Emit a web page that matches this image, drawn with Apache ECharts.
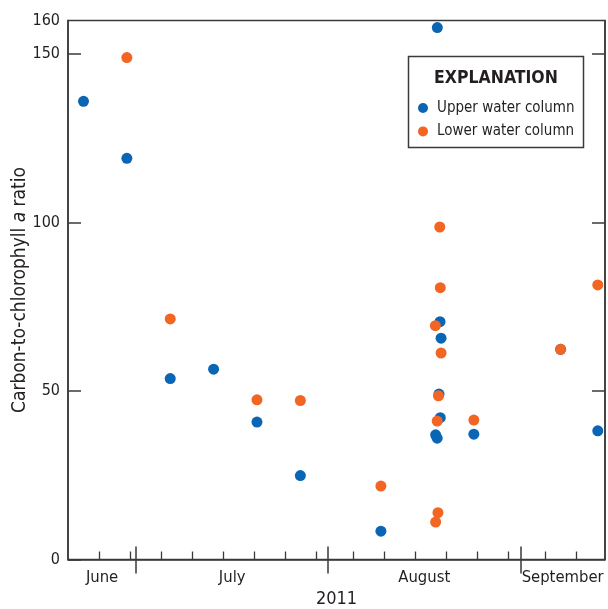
<!DOCTYPE html>
<html>
<head>
<meta charset="utf-8">
<script src="https://cdn.jsdelivr.net/npm/echarts@6/dist/echarts.min.js"></script>
<style>
  html, body { margin: 0; padding: 0; background: #fff; }
  #chart { width: 608px; height: 609px; }
</style>
</head>
<body>
<div id="chart"></div>
<script>
// Sample dates and carbon-to-chlorophyll a ratios, 2011
const upperDates = [
  '2011-06-22 12:00', '2011-06-29 12:00', '2011-07-06 12:00', '2011-07-13 12:00',
  '2011-07-20 12:00', '2011-07-27 12:00', '2011-08-09 12:00', '2011-08-18 14:30',
  '2011-08-19 01:00', '2011-08-19 05:00', '2011-08-18 21:00', '2011-08-19 02:00',
  '2011-08-18 08:00', '2011-08-18 14:00', '2011-08-24 12:00', '2011-09-07 12:00',
  '2011-09-13 12:00'
];
const upperValues = [136.0, 119.1, 53.7, 56.5, 40.8, 24.9, 8.4, 157.9,
  70.6, 65.7, 49.1, 42.1, 37.0, 36.0, 37.2, 62.4, 38.2];

const lowerDates = [
  '2011-06-29 12:00', '2011-07-06 12:00', '2011-07-20 12:00', '2011-07-27 12:00',
  '2011-08-09 12:00', '2011-08-19 00:00', '2011-08-19 02:00', '2011-08-18 07:00',
  '2011-08-19 05:00', '2011-08-18 19:00', '2011-08-18 14:00', '2011-08-24 12:00',
  '2011-08-18 17:00', '2011-08-18 08:00', '2011-09-07 12:00', '2011-09-13 12:00'
];
const lowerValues = [149.0, 71.4, 47.4, 47.2, 21.8, 98.7, 80.7, 69.4,
  61.3, 48.6, 41.1, 41.4, 13.9, 11.1, 62.4, 81.5];

const seriesNames = ['Upper water column', 'Lower water column'];
const monthNames = ['June', 'July', 'August', 'September'];
const yTicks = [0, 50, 100, 150];
const yLabels = [0, 50, 100, 150, 160];

// 'YYYY-MM-DD HH:MM' -> epoch ms (local time)
function toTime(s) {
  const m = s.match(/(\d+)-(\d+)-(\d+)(?:\s+(\d+):(\d+))?/);
  return new Date(+m[1], +m[2] - 1, +m[3], +(m[4] || 0), +(m[5] || 0)).getTime();
}

// axis extent and tick positions
const xMin = toTime('2011-06-20');
const xMax = toTime('2011-09-14 16:00');
const monthStarts = ['2011-07-01', '2011-08-01', '2011-09-01'].map(toTime);
const minorTicks = [
  '2011-06-25', '2011-06-30',
  '2011-07-05', '2011-07-10', '2011-07-15', '2011-07-20', '2011-07-25', '2011-07-30',
  '2011-08-05', '2011-08-10', '2011-08-15', '2011-08-20', '2011-08-25', '2011-08-30',
  '2011-09-05', '2011-09-10'
].map(toTime);

// month labels sit in the middle of each visible month span
const bounds = [xMin].concat(monthStarts, [xMax]);
const monthCenters = [];
for (let i = 0; i < bounds.length - 1; i++) monthCenters.push((bounds[i] + bounds[i + 1]) / 2);

const pair = (ds, vs) => ds.map((d, i) => [toTime(d), vs[i]]);

const INK = '#231f20';
const LINE = '#3a3a3a';
const FONT = '"DejaVu Sans Condensed", "Liberation Sans Narrow", sans-serif';
const BLUE = '#0a66b4';
const ORANGE = '#f26522';

const chart = echarts.init(document.getElementById('chart'), null, { renderer: 'canvas' });

const hidden = { show: false };
const baseX = { type: 'value', min: xMin, max: xMax, position: 'bottom', gridIndex: 0, scale: true };

chart.setOption({
  animation: false,
  backgroundColor: '#fff',
  grid: {
    left: 68, top: 20.5, right: 3, bottom: 49.5,
    outerBoundsMode: 'none', containLabel: false,
    show: true, borderColor: LINE, borderWidth: 1.5, backgroundColor: 'transparent'
  },
  xAxis: [
    Object.assign({}, baseX, {
      axisLine: { show: true, onZero: false, lineStyle: { color: LINE, width: 1.5 } },
      axisTick: { show: true, inside: true, length: 8, customValues: minorTicks, lineStyle: { color: LINE, width: 1.3 } },
      axisLabel: {
        show: true, customValues: monthCenters, margin: 10,
        fontFamily: FONT, fontSize: 16.5, color: INK,
        formatter: function (v) {
          for (let i = 0; i < bounds.length - 1; i++) {
            if (v >= bounds[i] && v < bounds[i + 1]) return monthNames[i];
          }
          return '';
        }
      },
      splitLine: hidden,
      name: '2011', nameLocation: 'middle', nameGap: 31, nameMoveOverlap: false,
      nameTextStyle: { fontFamily: FONT, fontSize: 18, color: INK }
    }),
    Object.assign({}, baseX, {
      axisLine: hidden,
      axisTick: { show: true, inside: true, length: 13, customValues: monthStarts, lineStyle: { color: LINE, width: 1.5 } },
      axisLabel: hidden, splitLine: hidden
    }),
    Object.assign({}, baseX, {
      axisLine: hidden,
      axisTick: { show: true, inside: false, length: 14, customValues: monthStarts, lineStyle: { color: LINE, width: 1.5 } },
      axisLabel: hidden, splitLine: hidden
    })
  ],
  yAxis: [
    {
      type: 'value', min: 0, max: 160, position: 'left',
      axisLine: { show: true, onZero: false, lineStyle: { color: LINE, width: 1.5 } },
      axisTick: { show: true, inside: true, length: 13, customValues: yTicks, lineStyle: { color: LINE, width: 1.5 } },
      axisLabel: { show: true, customValues: yLabels, margin: 8, fontFamily: FONT, fontSize: 16, color: INK },
      splitLine: hidden,
      name: 'Carbon-to-chlorophyll {i|a} ratio',
      nameLocation: 'middle', nameGap: 38, nameMoveOverlap: false,
      nameTextStyle: {
        fontFamily: FONT, fontSize: 19, color: INK,
        rich: { i: { fontFamily: FONT, fontSize: 19, fontStyle: 'italic', color: INK } }
      }
    },
    {
      type: 'value', min: 0, max: 160, position: 'right',
      axisLine: { show: true, onZero: false, lineStyle: { color: LINE, width: 1.5 } },
      axisTick: { show: true, inside: true, length: 13, customValues: [50, 100, 150], lineStyle: { color: LINE, width: 1.5 } },
      axisLabel: hidden, splitLine: hidden
    }
  ],
  legend: {
    orient: 'vertical', left: 413, top: 95,
    itemWidth: 18, itemHeight: 10, itemGap: 7.4,
    icon: 'circle',
    textStyle: { fontFamily: FONT, fontSize: 15, color: INK, lineHeight: 16 },
    data: seriesNames
  },
  graphic: [
    {
      type: 'rect', z: 0,
      shape: { x: 408.5, y: 56.5, width: 175, height: 91 },
      style: { fill: '#fff', stroke: LINE, lineWidth: 1.5 }
    },
    {
      type: 'text', z: 1, x: 496, y: 78,
      style: {
        text: 'EXPLANATION', fontFamily: FONT, fontSize: 17.5, fontWeight: 'bold',
        fill: INK, align: 'center', verticalAlign: 'middle'
      }
    }
  ],
  series: [
    {
      name: seriesNames[0], type: 'scatter', symbol: 'circle', symbolSize: 11,
      itemStyle: { color: BLUE, opacity: 1 },
      data: pair(upperDates, upperValues), z: 3
    },
    {
      name: seriesNames[1], type: 'scatter', symbol: 'circle', symbolSize: 11,
      itemStyle: { color: ORANGE, opacity: 1 },
      data: pair(lowerDates, lowerValues), z: 4
    }
  ]
});
</script>
</body>
</html>
